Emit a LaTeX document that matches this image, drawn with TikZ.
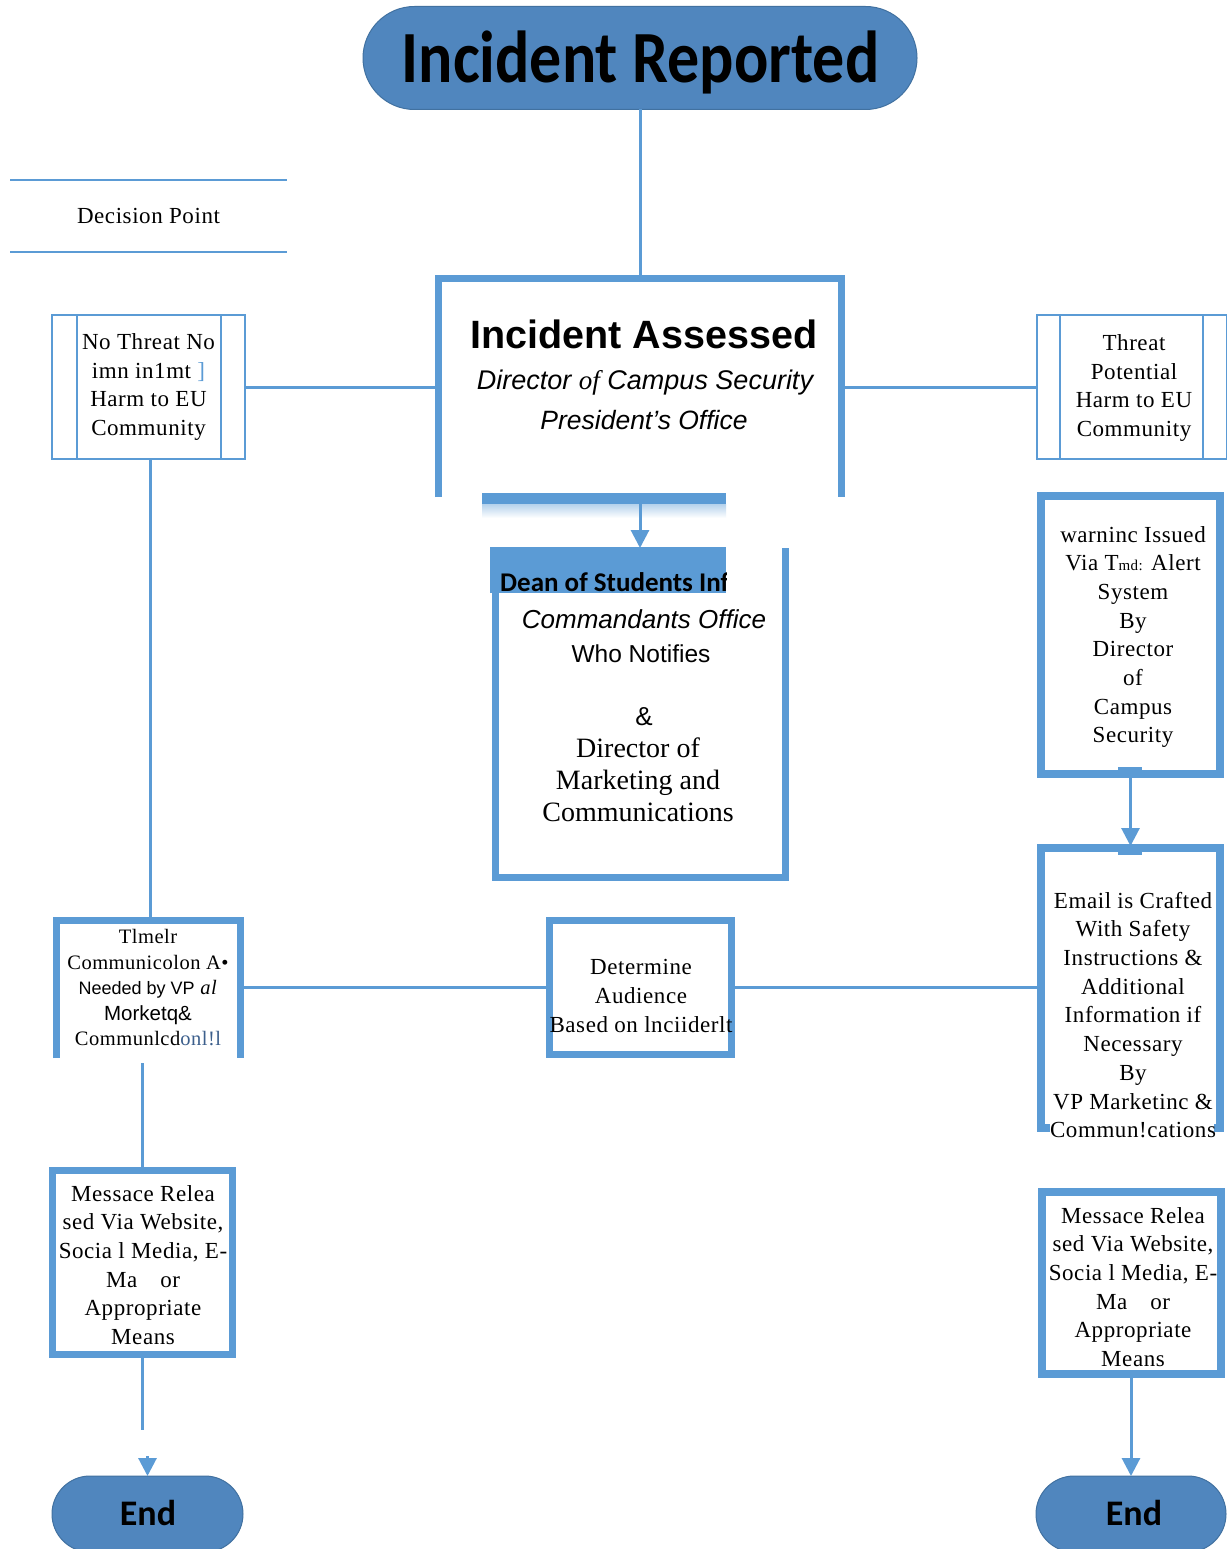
\documentclass[tikz,border=0pt]{standalone}
\usepackage{fontspec}
\setmainfont{Liberation Serif}
\setsansfont{Liberation Sans}
\newfontfamily\calfont{Carlito}
\newfontfamily\boxfont[LetterSpace=2.5]{Liberation Serif}
\usetikzlibrary{arrows.meta,calc,shapes.misc}
\definecolor{lblue}{RGB}{91,155,213}
\definecolor{pillblue}{RGB}{80,134,190}
\definecolor{pilledge}{RGB}{65,113,160}
\definecolor{txtblue}{RGB}{60,95,140}
\begin{document}
\begin{tikzpicture}[x=1pt,y=-1pt,
  conn/.style={draw=lblue,line width=3pt},
  arr/.style={conn,-{Triangle[width=18pt,length=18pt]}},
  thinbox/.style={draw=lblue,line width=2.2pt,outer sep=0pt,inner sep=0pt,align=center,
    font=\boxfont\fontsize{23}{28.7}\selectfont},
  thickbox/.style={draw=lblue,line width=7pt,outer sep=0pt,inner sep=0pt,align=center,
    font=\boxfont\fontsize{23}{28.7}\selectfont},
  openbox/.style={outer sep=0pt,inner sep=0pt,align=center},
  pill/.style={rounded rectangle,fill=pillblue,draw=pilledge,line width=1pt,outer sep=0pt,
    inner sep=0pt},
  bodytxt/.style={align=center,inner sep=0pt,font=\boxfont\fontsize{23}{28.7}\selectfont}
]
\useasboundingbox[fill=white] (0,0) rectangle (1226,1549);

% start
\node[pill,minimum width=554pt,minimum height=103pt] (rep) at (640,58) {};
\node[anchor=base] at (640.5,83) {\calfont\bfseries\fontsize{64}{70}\selectfont\scalebox{1}[1.15]{Incident Reported}};

% decision point legend
\node[openbox,minimum width=277pt,minimum height=72pt,font=\boxfont\fontsize{23}{26}\selectfont] (dp) at (148.5,216) {Decision Point};
\draw[draw=lblue,line width=2pt] (dp.north west) -- (dp.north east);
\draw[draw=lblue,line width=2pt] (dp.south west) -- (dp.south east);

% incident assessed (open bottom)
\node[openbox,minimum width=403pt,minimum height=219pt] (assess) at (639.5,387.5) {};
\draw[draw=lblue,line width=7pt] (assess.south west) -- (assess.north west) -- (assess.north east) -- (assess.south east);
\node[anchor=base] at (644,348) {\sffamily\bfseries\fontsize{39.5}{44}\selectfont Incident Assessed};
\node[anchor=base] at (645,389) {\sffamily\itshape\fontsize{27}{30}\selectfont Director {\rmfamily of} Campus Security};
\node[anchor=base] at (644,429) {\sffamily\itshape\fontsize{26.5}{30}\selectfont President’s Office};

% no threat
\node[thinbox,minimum width=193pt,minimum height=144pt] (nothreat) at (148.5,387) {No Threat No\\imn in1mt {\color{lblue}]}\\Harm to EU\\Community};
\draw[draw=lblue,line width=2.2pt] ($(nothreat.north west)+(25,0)$) -- ($(nothreat.south west)+(25,0)$);
\draw[draw=lblue,line width=2.2pt] ($(nothreat.north east)+(-24,0)$) -- ($(nothreat.south east)+(-24,0)$);

% threat
\node[thinbox,minimum width=190.5pt,minimum height=144pt] (threat) at (1132.25,387) {};
\node[bodytxt] at (1134,388) {Threat\\Potential\\Harm to EU\\Community};
\draw[draw=lblue,line width=2.2pt] ($(threat.north west)+(23,0)$) -- ($(threat.south west)+(23,0)$);
\draw[draw=lblue,line width=2.2pt] ($(threat.north east)+(-24.5,0)$) -- ($(threat.south east)+(-24.5,0)$);

% bar + dean box
\shade[top color=lblue!45,bottom color=white] (482,504) rectangle (726,518);
\node[fill=lblue,minimum width=244pt,minimum height=11pt,inner sep=0pt,outer sep=0pt] (bar) at (604,498.5) {};
\node[openbox,minimum width=290pt,minimum height=329pt] (dean) at (640,712.5) {};
\fill[lblue] (490,547) rectangle (726,593);
\begin{scope}
\clip (490,547) rectangle (726,593);
\node[anchor=base west,inner sep=0pt] at (500,591) {\calfont\bfseries\fontsize{27}{30}\selectfont Dean of Students Inf};
\end{scope}
\draw[draw=lblue,line width=7pt] (dean.west |- 0,593) -- (dean.south west) -- (dean.south east) -- (dean.north east);
\node[anchor=base] at (644,628) {\sffamily\itshape\fontsize{26}{30}\selectfont Commandants Office};
\node[anchor=base] at (641,662) {\sffamily\fontsize{24.5}{30}\selectfont Who Notifies};
\node[anchor=base] at (644,725) {\sffamily\fontsize{26}{30}\selectfont \&};
\node[anchor=base] at (638,757) {\fontsize{28}{32}\selectfont Director of};
\node[anchor=base] at (638,789) {\fontsize{28}{32}\selectfont Marketing and};
\node[anchor=base] at (638,821) {\fontsize{28}{32}\selectfont Communications};
\draw[arr] (bar.south -| dean.north) -- (dean.north);

% warning box
\node[thickbox,line width=8pt,minimum width=179pt,minimum height=278pt] (warn) at (1130.5,635) {};
\node[bodytxt] at (1133,637) {warninc Issued\\Via T{\fontsize{15}{15}\selectfont md:} Alert\\System\\By\\Director\\of\\Campus\\Security};

% email box
\node[thickbox,line width=8pt,minimum width=179pt,minimum height=280pt] (email) at (1130.5,988) {};
\fill[white] (1050,1119) rectangle (1214,1140);
\node[bodytxt] at (1133,1015) {Email is Crafted\\With Safety\\Instructions \&\\Additional\\Information if\\Necessary\\By\\VP Marketinc \&\\Commun!cations};

\fill[lblue] (1118,767) rectangle (1142,778);
\fill[lblue] (1118,844) rectangle (1142,855);
\draw[arr] (warn.south) -- ($(email.north)+(0,-2)$);

% timely box (open bottom)
\node[openbox,minimum width=184pt,minimum height=138pt] (timely) at (148,989) {};
\draw[draw=lblue,line width=7pt] (timely.south west) -- (timely.north west) -- (timely.north east) -- (timely.south east);
\node[align=center,inner sep=0pt,font=\boxfont\fontsize{20.5}{25.5}\selectfont] at (148,988) {Tlmelr\\Communicolon A•\\{\sffamily\fontsize{18}{25.5}\selectfont Needed by VP} \textit{al}\\{\sffamily\fontsize{20.5}{25.5}\selectfont Morketq\&}\\Communlcd{\color{txtblue}onl!l}};

% determine box
\node[thickbox,minimum width=182pt,minimum height=134pt] (det) at (640,987) {};
\node[bodytxt] at (641,996) {Determine\\Audience\\Based on lnciiderlt};

% horizontal connectors
\draw[conn] (nothreat.east) -- (nothreat.east -| assess.west);
\draw[conn] (assess.east |- threat.west) -- (threat.west);
\draw[conn] (rep.south) -- (rep.south |- assess.north);
\draw[conn] (nothreat.south -| 150,0) -- (timely.north -| 150,0);
\draw[conn] (timely.east |- det.west) -- (det.west);
\draw[conn] (det.east) -- (det.east -| email.west);

% message boxes
\node[thickbox,minimum width=180pt,minimum height=184pt] (msgL) at (142,1262) {};
\node[bodytxt] at (143,1265) {Messace Relea\\sed Via Website,\\Socia l Media, E-\\Ma\quad or\\Appropriate\\Means};
\node[thickbox,line width=8pt,minimum width=179pt,minimum height=182pt] (msgR) at (1131,1283) {};
\node[bodytxt] at (1133,1287) {Messace Relea\\sed Via Website,\\Socia l Media, E-\\Ma\quad or\\Appropriate\\Means};

\draw[conn] ($(msgL.north |- timely.south)+(0,5)$) -- (msgL.north);

% end pills
\node[pill,minimum width=191pt,minimum height=76pt] (endL) at (147.5,1514) {};
\node[anchor=base] at (148,1525) {\calfont\bfseries\fontsize{36}{40}\selectfont End};
\node[pill,minimum width=190pt,minimum height=76pt] (endR) at (1131,1514) {};
\node[anchor=base] at (1134,1525) {\calfont\bfseries\fontsize{36}{40}\selectfont End};

\draw[conn] (msgL.south) -- ($(msgL.south)+(0,76)$);
\draw[arr] ($(endL.north)+(0,-20)$) -- (endL.north);
\draw[arr] (msgR.south) -- (msgR.south |- endR.north);
\end{tikzpicture}
\end{document}
